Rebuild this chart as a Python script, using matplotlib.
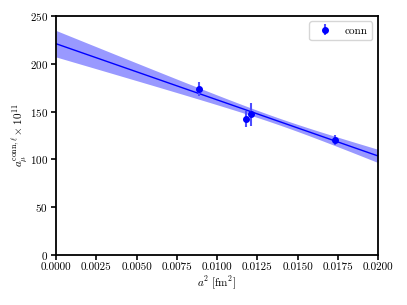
import numpy as np
import matplotlib
matplotlib.use('Agg')
import matplotlib.pyplot as plt

# data
a2 = np.array([0.00888, 0.0118, 0.0121, 0.01733])      # a^2 [fm^2]
amu = np.array([173.5, 142.0, 147.0, 120.5])           # a_mu x 1e11
amu_err = np.array([7.0, 8.7, 11.8, 5.0])

plt.rcParams['font.family'] = 'serif'
plt.rcParams['font.serif'] = ['cmr10']
plt.rcParams['mathtext.fontset'] = 'cm'
plt.rcParams['axes.formatter.use_mathtext'] = True
plt.rcParams['font.size'] = 8

# weighted linear fit, continuum extrapolation
p, cov = np.polyfit(a2, amu, 1, w=1.0 / amu_err, cov='unscaled')
x_fit = np.linspace(0, 0.02, 200)
y_fit = np.polyval(p, x_fit)
J = np.vstack([x_fit, np.ones_like(x_fit)]).T
y_sig = np.sqrt(np.einsum('ij,jk,ik->i', J, cov, J))

fig = plt.figure(figsize=(4.07, 3.05), dpi=100)
ax = fig.add_axes([0.1376, 0.164, 0.7912, 0.784])

ax.fill_between(x_fit, y_fit - y_sig, y_fit + y_sig, color='b', alpha=0.4, lw=0)
ax.plot(x_fit, y_fit, color='b', lw=1.0)
ax.errorbar(a2, amu, yerr=amu_err, fmt='o', color='b', ms=4,
            elinewidth=1.5, ecolor=(0.3, 0.3, 1.0), label='conn')

ax.set_xlim(0, 0.02)
ax.set_ylim(0, 250)
ax.set_xticks(np.arange(0, 0.02001, 0.0025))
ax.set_yticks(np.arange(0, 251, 50))
ax.xaxis.set_major_formatter(matplotlib.ticker.FormatStrFormatter('%.4f'))
ax.tick_params(width=1.2, length=3.5, pad=2.2, labelsize=8)
for s in ax.spines.values():
    s.set_linewidth(1.3)

ax.set_xlabel(r'$a^2\ [\mathrm{fm}^2]$', fontsize=8, labelpad=1.5)
ax.set_ylabel(r'$a_\mu^{\mathrm{conn},\ell}\times 10^{11}$', fontsize=8, labelpad=0)
ax.legend(loc='upper right', fontsize=8)

fig.savefig('out.png', dpi=100)
